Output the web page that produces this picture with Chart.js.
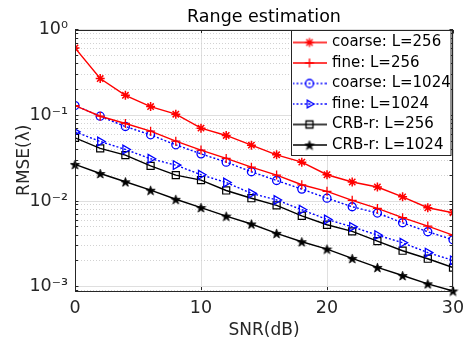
<!DOCTYPE html>
<html>
<head>
<meta charset="utf-8">
<script src="https://cdn.jsdelivr.net/npm/chart.js@4.4.1/dist/chart.umd.min.js"></script>
<style>
  html, body { margin: 0; padding: 0; background: #fff; }
  #wrap { width: 468px; height: 347px; }
</style>
</head>
<body>
<div id="wrap"><canvas id="rangeChart" width="468" height="347"></canvas></div>
<script>
// SNR (dB) on the x axis
const snr = [0, 2, 4, 6, 8, 10, 12, 14, 16, 18, 20, 22, 24, 26, 28, 30];

// RMSE values
const coarse256 = [0.615, 0.270, 0.172, 0.127, 0.1035, 0.0711, 0.0584, 0.045, 0.0347, 0.0285, 0.0203, 0.0167, 0.0146, 0.0112, 0.00836, 0.0073];
const fine256 = [0.1306, 0.098, 0.0806, 0.0656, 0.0501, 0.0394, 0.0315, 0.0249, 0.0201, 0.0155, 0.0130, 0.0102, 0.0082, 0.0064, 0.0051, 0.0040];
const coarse1024 = [0.1306, 0.098, 0.0743, 0.0594, 0.0454, 0.0356, 0.0285, 0.0220, 0.0174, 0.0138, 0.0108, 0.00858, 0.00724, 0.00558, 0.00438, 0.00353];
const fine1024 = [0.0644, 0.0497, 0.0401, 0.0312, 0.0263, 0.0203, 0.0165, 0.0123, 0.0103, 0.00792, 0.0061, 0.0050, 0.0040, 0.00326, 0.0025, 0.00203];
const crb256 = [0.0548, 0.0412, 0.0344, 0.0258, 0.0201, 0.0176, 0.0133, 0.0108, 0.0089, 0.00673, 0.00529, 0.00443, 0.00341, 0.00263, 0.00212, 0.00167];
const crb1024 = [0.0268, 0.0210, 0.0168, 0.0134, 0.0105, 0.0084, 0.00668, 0.0054, 0.0042, 0.00335, 0.00275, 0.00214, 0.00168, 0.00135, 0.00108, 0.00089];

const seriesLabels = ['coarse: L=256', 'fine: L=256', 'coarse: L=1024', 'fine: L=1024', 'CRB-r: L=256', 'CRB-r: L=1024'];

// axis ticks
const xTickValues = [0, 10, 20, 30];
const yTickValues = [0.001, 0.01, 0.1, 1];
const yTickLabels = ['10⁻³', '10⁻²', '10⁻¹', '10⁰'];
const yMin = 0.00089, yMax = 1.01;

// minor log ticks (2..9 x 10^k) inside the range
const yMinorValues = [];
[0.0001, 0.001, 0.01, 0.1].forEach(d => {
  for (let k = 2; k <= 9; k++) {
    const v = +(d * k).toPrecision(3);
    if (v >= yMin && v <= yMax) yMinorValues.push(v);
  }
});
const yAllValues = yTickValues.concat(yMinorValues).filter(v => v >= yMin && v <= yMax).sort((a, b) => a - b);
const isMajor = v => yTickValues.some(m => Math.abs(m - v) / m < 1e-6);

const RED = '#ff0000', BLUE = '#0000ff', BLACK = '#000000';
const FRAME = '#262626';

Chart.defaults.font.family = "'DejaVu Sans', 'Liberation Sans', sans-serif";
Chart.defaults.color = FRAME;

function pentagram(size, color) {
  const c = document.createElement('canvas');
  c.width = size; c.height = size;
  const g = c.getContext('2d');
  const r = size / 2 - 0.6, ri = r * 0.4, cx = size / 2, cy = size / 2 + 0.6;
  g.beginPath();
  for (let k = 0; k < 10; k++) {
    const rr = k % 2 ? ri : r;
    const a = -Math.PI / 2 + k * Math.PI / 5;
    g.lineTo(cx + rr * Math.cos(a), cy + rr * Math.sin(a));
  }
  g.closePath();
  g.fillStyle = color; g.fill();
  g.strokeStyle = color; g.lineWidth = 0.8; g.stroke();
  return c;
}
const starImg = pentagram(11, BLACK);

function drawMark(g, kind, x, y, color) {
  g.strokeStyle = color;
  g.lineWidth = 1.3;
  g.setLineDash([]);
  g.beginPath();
  if (kind === 'asterisk') {
    const r = 4.5;
    [0, 45, 90, 135].forEach(a => {
      const t = a * Math.PI / 180;
      g.moveTo(x - r * Math.cos(t), y - r * Math.sin(t));
      g.lineTo(x + r * Math.cos(t), y + r * Math.sin(t));
    });
    g.stroke();
  } else if (kind === 'plus') {
    const r = 4.5;
    g.moveTo(x - r, y); g.lineTo(x + r, y);
    g.moveTo(x, y - r); g.lineTo(x, y + r);
    g.stroke();
  } else if (kind === 'circle') {
    g.arc(x, y, 4, 0, Math.PI * 2);
    g.stroke();
  } else if (kind === 'triRight') {
    const r = 4.5;
    g.moveTo(x + r, y);
    g.lineTo(x - r / 2, y - r * 0.866);
    g.lineTo(x - r / 2, y + r * 0.866);
    g.closePath();
    g.stroke();
  } else if (kind === 'square') {
    g.rect(x - 3.5, y - 3.5, 7, 7);
    g.stroke();
  } else if (kind === 'pentagram') {
    g.drawImage(starImg, x - starImg.width / 2, y - starImg.height / 2);
  }
}

function legendIcon(color, dash, kind) {
  const c = document.createElement('canvas');
  c.width = 34; c.height = 14;
  const g = c.getContext('2d');
  g.strokeStyle = color; g.lineWidth = 1.4;
  g.setLineDash(dash);
  g.beginPath(); g.moveTo(0, 7); g.lineTo(34, 7); g.stroke();
  drawMark(g, kind, 17, 7, color);
  return c;
}

const legendIcons = [
  legendIcon(RED, [], 'asterisk'),
  legendIcon(RED, [], 'plus'),
  legendIcon(BLUE, [2, 2], 'circle'),
  legendIcon(BLUE, [2, 2], 'triRight'),
  legendIcon(BLACK, [], 'square'),
  legendIcon(BLACK, [], 'pentagram')
];

const toPoints = arr => snr.map((s, i) => ({ x: s, y: arr[i] }));

const datasets = [
  { label: seriesLabels[0], data: toPoints(coarse256), borderColor: RED, backgroundColor: RED,
    pointStyle: 'star', pointRadius: 4.5, pointBorderWidth: 1.5 },
  { label: seriesLabels[1], data: toPoints(fine256), borderColor: RED, backgroundColor: RED,
    pointStyle: 'cross', pointRadius: 4.5, pointBorderWidth: 1.3 },
  { label: seriesLabels[2], data: toPoints(coarse1024), borderColor: BLUE, backgroundColor: 'rgba(0,0,0,0)',
    borderDash: [2, 2], pointStyle: 'circle', pointRadius: 4, pointBorderWidth: 1.3 },
  { label: seriesLabels[3], data: toPoints(fine1024), borderColor: BLUE, backgroundColor: 'rgba(0,0,0,0)',
    borderDash: [2, 2], pointStyle: 'triangle', pointRotation: 90, pointRadius: 5, pointBorderWidth: 1.3 },
  { label: seriesLabels[4], data: toPoints(crb256), borderColor: BLACK, backgroundColor: 'rgba(0,0,0,0)',
    pointStyle: 'rect', pointRadius: 5, pointBorderWidth: 1.2 },
  { label: seriesLabels[5], data: toPoints(crb1024), borderColor: BLACK, backgroundColor: BLACK,
    pointStyle: starImg, pointRadius: 5, clip: false }
].map(ds => Object.assign({ borderWidth: 1.4, fill: false, tension: 0, xAxisID: 'x', yAxisID: 'y' }, ds));

// frame, title centring and in-axes legend box
const matlabLook = {
  id: 'matlabLook',
  afterLayout(chart) {
    const ca = chart.chartArea;
    const t = chart.titleBlock;
    if (t) { t.left = ca.left; t.right = ca.right; t.width = ca.right - ca.left; }
    const lg = chart.legend;
    lg.left = ca.right - 164;
    lg.right = lg.left + lg.width;
    lg.top = ca.top;
    lg.bottom = ca.bottom;
  },
  afterDatasetsDraw(chart) {
    const { ctx, chartArea: ca, legend: lg } = chart;
    ctx.save();
    ctx.strokeStyle = FRAME;
    ctx.lineWidth = 1;
    ctx.setLineDash([]);
    ctx.strokeRect(Math.round(ca.left) + 0.5, Math.round(ca.top) + 0.5,
      Math.round(ca.right - ca.left) - 1, Math.round(ca.bottom - ca.top) - 1);
    const bx = Math.round(lg.left + 2) + 0.5;
    const by = Math.round(ca.top) + 0.5;
    const bw = Math.round(ca.right - 2) - bx;
    const bh = Math.round(lg.columnSizes[0].height + 2);
    ctx.fillStyle = '#ffffff';
    ctx.fillRect(bx, by, bw, bh);
    ctx.strokeRect(bx, by, bw, bh);
    ctx.restore();
    lg.draw();
  }
};

new Chart(document.getElementById('rangeChart').getContext('2d'), {
  type: 'line',
  data: { datasets: datasets },
  plugins: [matlabLook],
  options: {
    responsive: false,
    animation: false,
    devicePixelRatio: 1,
    layout: { autoPadding: false, padding: { left: 0, right: 15, top: 0, bottom: 0 } },
    plugins: {
      title: {
        display: true,
        text: 'Range estimation',
        color: '#000',
        font: { size: 17.5, weight: 'normal' },
        padding: { top: 7, bottom: 1.5 }
      },
      legend: {
        display: true,
        position: 'chartArea',
        align: 'start',
        labels: {
          usePointStyle: true,
          pointStyleWidth: 30,
          padding: 5.5,
          color: '#000',
          font: { size: 15 },
          generateLabels: chart => chart.data.datasets.map((ds, i) => ({
            text: ds.label,
            datasetIndex: i,
            pointStyle: legendIcons[i],
            fillStyle: 'rgba(0,0,0,0)',
            strokeStyle: 'rgba(0,0,0,0)',
            lineWidth: 0,
            hidden: false,
            fontColor: '#000'
          }))
        }
      },
      tooltip: { enabled: false }
    },
    scales: {
      x: {
        type: 'linear',
        position: 'bottom',
        min: 0,
        max: 30,
        afterBuildTicks: s => { s.ticks = xTickValues.map(v => ({ value: v })); },
        afterFit: s => { s.height = 56; s.paddingLeft = 0; s.paddingRight = 0; },
        ticks: { color: FRAME, font: { size: 17.5 }, padding: 11, maxRotation: 0 },
        grid: { color: '#dfdfdf', lineWidth: 1, tickColor: FRAME, tickLength: -4 },
        border: { display: false },
        title: { display: true, text: 'SNR(dB)', color: FRAME, font: { size: 17 }, padding: { top: 0, bottom: 6 } }
      },
      xTop: {
        type: 'linear',
        position: 'top',
        min: 0,
        max: 30,
        afterBuildTicks: s => { s.ticks = xTickValues.map(v => ({ value: v })); },
        afterFit: s => { s.height = 0; s.paddingLeft = 0; s.paddingRight = 0; },
        ticks: { display: false },
        grid: { color: 'rgba(0,0,0,0)', tickColor: FRAME, tickLength: -4 },
        border: { display: false }
      },
      y: {
        type: 'logarithmic',
        position: 'left',
        min: yMin,
        max: yMax,
        afterBuildTicks: s => { s.ticks = yAllValues.map(v => ({ value: v })); },
        afterFit: s => { s.width = 75; },
        ticks: {
          autoSkip: false,
          color: FRAME,
          font: { size: 17.5 },
          padding: 10.5,
          callback: v => {
            const i = yTickValues.findIndex(m => Math.abs(m - v) / m < 1e-6);
            return i >= 0 ? yTickLabels[i] : '';
          }
        },
        grid: {
          color: c => (c.tick && isMajor(c.tick.value)) ? '#dfdfdf' : 'rgba(0,0,0,0)',
          tickColor: FRAME,
          tickLength: -3.5
        },
        border: { display: false },
        title: { display: true, text: 'RMSE(λ)', color: FRAME, font: { size: 17 }, padding: { top: 14, bottom: 0 } }
      },
      yMinor: {
        type: 'logarithmic',
        position: 'right',
        min: yMin,
        max: yMax,
        afterBuildTicks: s => { s.ticks = yAllValues.map(v => ({ value: v })); },
        afterFit: s => { s.width = 0; },
        ticks: { display: false, autoSkip: false },
        grid: {
          color: c => (c.tick && isMajor(c.tick.value)) ? 'rgba(0,0,0,0)' : '#d2d2d2',
          tickColor: FRAME,
          tickLength: -3.5,
          tickBorderDash: []
        },
        border: { display: false, dash: [1, 2] }
      }
    }
  }
});
</script>
</body>
</html>
